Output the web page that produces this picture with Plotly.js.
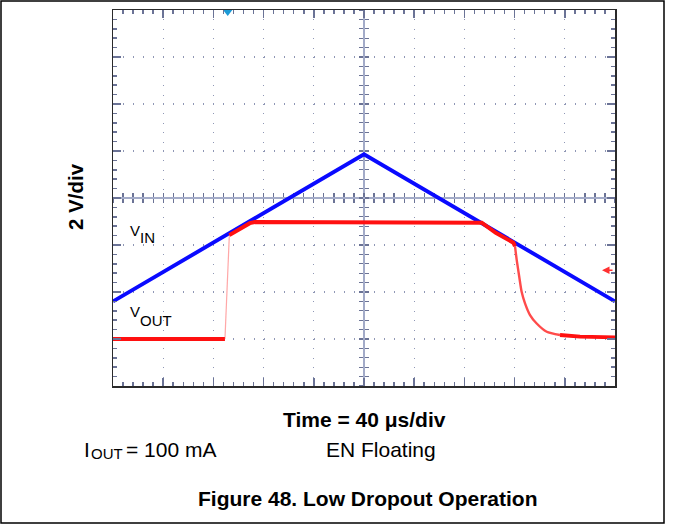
<!DOCTYPE html>
<html><head><meta charset="utf-8">
<script src="https://cdn.plot.ly/plotly-3.0.1.min.js"></script>
<style>html,body{margin:0;padding:0;background:#fff;}#chart{width:673px;height:529px;}</style>
</head><body><div id="chart"></div>
<script>
// ---- data (time in µs, voltage in V; 40 µs/div, 2 V/div) ----
const vinTime = [0, 200, 400];
const vinVolts = [3.6, 9.86, 3.6];
const voutLowTime = [0, 89.2];
const voutLowVolts = [2.0, 2.0];
const voutEdgeTime = [89.2, 92.7];
const voutEdgeVolts = [2.0, 6.42];
const voutRegTime = [92.7, 100, 105, 109, 113, 200, 293.8, 305, 319, 320.3];
const voutRegVolts = [6.42, 6.63, 6.8, 6.93, 6.98, 6.98, 6.95, 6.52, 6.1, 5.95];
const voutFallTime = [320.3, 321.7, 323.7, 325.6, 328.3, 332.3, 337.6, 345.6, 356.2];
const voutFallVolts = [5.95, 5.36, 4.65, 4.01, 3.52, 3.02, 2.66, 2.31, 2.17];
const voutTailTime = [356.2, 372.1, 400];
const voutTailVolts = [2.17, 2.10, 2.07];
const triggerTime = [91.4];
const triggerLevel = [15.92];
const refMarkerVolts = 4.93;

// ---- layout helpers (pixel -> paper) ----
const L = 113, R = 58, T = 10, B = 143, W = 673, H = 529;
const PW = W - L - R, PH = H - T - B;
const px = x => (x - L) / PW;
const py = y => (H - B - y) / PH;

const FONT = 'Liberation Sans, Arial, Helvetica, sans-serif';
const tickC = '#6b7396';
const gridC = '#8f97b5';
const crossC = '#a3abc8';

const traces = [
  // empty helper traces so the centre cross-hair axes get drawn
  {x: [], y: [], xaxis: 'x2', yaxis: 'y', mode: 'lines', hoverinfo: 'skip'},
  {x: [], y: [], xaxis: 'x3', yaxis: 'y', mode: 'lines', hoverinfo: 'skip'},
  {x: [], y: [], xaxis: 'x', yaxis: 'y2', mode: 'lines', hoverinfo: 'skip'},
  {x: [], y: [], xaxis: 'x', yaxis: 'y3', mode: 'lines', hoverinfo: 'skip'},
  {x: vinTime, y: vinVolts, mode: 'lines', line: {color: '#0a0aff', width: 3.9}, hoverinfo: 'skip'},
  {x: voutLowTime, y: voutLowVolts, mode: 'lines', line: {color: '#ff1010', width: 3.8}, hoverinfo: 'skip'},
  {x: voutEdgeTime, y: voutEdgeVolts, mode: 'lines', line: {color: 'rgba(255,60,60,0.45)', width: 1.2}, hoverinfo: 'skip'},
  {x: voutRegTime, y: voutRegVolts, mode: 'lines', line: {color: '#ff1010', width: 4}, hoverinfo: 'skip'},
  {x: voutFallTime, y: voutFallVolts, mode: 'lines', line: {color: 'rgba(255,30,30,0.8)', width: 2.4, shape: 'spline', smoothing: 0.6}, hoverinfo: 'skip'},
  {x: voutTailTime, y: voutTailVolts, mode: 'lines', line: {color: '#ff1010', width: 3.8}, hoverinfo: 'skip'},
  {x: triggerTime, y: triggerLevel, mode: 'markers', marker: {symbol: 'triangle-down', size: 8, color: '#1c9ad6'}, cliponaxis: false, hoverinfo: 'skip'}
];

function crossAxis(range, dtick, mdtick, side) {
  return {
    anchor: 'free', position: 0.5, range: range, dtick: dtick, tick0: 0,
    showticklabels: false, ticks: side, ticklen: 4, tickwidth: 1.3, tickcolor: tickC,
    minor: {dtick: mdtick, tick0: 0, ticks: side, ticklen: 4, tickwidth: 1.3, tickcolor: tickC, showgrid: false},
    showgrid: false, zeroline: false, showline: true, linecolor: crossC, linewidth: 2.2,
    layer: 'below traces', fixedrange: true
  };
}

const layout = {
  width: W, height: H,
  margin: {l: L, r: R, t: T, b: B, pad: 0},
  paper_bgcolor: '#ffffff', plot_bgcolor: '#ffffff',
  showlegend: false,
  font: {family: FONT, color: '#000'},
  xaxis: {
    range: [0, 400], dtick: 40, tick0: 0, showticklabels: false,
    ticks: 'inside', ticklen: 8, tickwidth: 1.5, tickcolor: tickC,
    minor: {dtick: 8, tick0: 0, ticks: 'inside', ticklen: 4, tickwidth: 1.5, tickcolor: tickC, showgrid: false},
    showgrid: true, gridcolor: gridC, gridwidth: 1.2, griddash: '1px,8.4px',
    showline: true, linecolor: '#2a2a2a', linewidth: 1.5, mirror: 'ticks',
    zeroline: false, fixedrange: true
  },
  yaxis: {
    range: [0, 16], dtick: 2, tick0: 0, showticklabels: false,
    ticks: 'inside', ticklen: 8, tickwidth: 1.5, tickcolor: tickC,
    minor: {dtick: 0.4, tick0: 0, ticks: 'inside', ticklen: 4, tickwidth: 1.5, tickcolor: tickC, showgrid: false},
    showgrid: true, gridcolor: gridC, gridwidth: 1.2, griddash: '1px,9.04px',
    showline: true, linecolor: '#2a2a2a', linewidth: 1.5, mirror: 'ticks',
    zeroline: false, fixedrange: true
  },
  xaxis2: Object.assign(crossAxis([0, 400], 40, 8, 'inside'), {overlaying: 'x'}),
  xaxis3: Object.assign(crossAxis([0, 400], 40, 8, 'outside'), {overlaying: 'x'}),
  yaxis2: Object.assign(crossAxis([0, 16], 2, 0.4, 'inside'), {overlaying: 'y'}),
  yaxis3: Object.assign(crossAxis([0, 16], 2, 0.4, 'outside'), {overlaying: 'y'}),
  shapes: [
    {type: 'rect', xref: 'paper', yref: 'paper', x0: px(1), x1: px(664), y0: py(523), y1: py(1),
     line: {color: '#000', width: 1.5}, fillcolor: 'rgba(0,0,0,0)'}
  ],
  annotations: [
    {xref: 'paper', yref: 'paper', x: px(75), y: py(197), text: '<b>2 V/div</b>', textangle: -90,
     showarrow: false, xanchor: 'center', yanchor: 'middle', font: {size: 20.5, family: FONT}, borderpad: 0},
    {xref: 'paper', yref: 'paper', x: px(129), y: py(230), text: 'V', showarrow: false,
     xanchor: 'left', yanchor: 'middle', font: {size: 15, family: FONT}, borderpad: 0},
    {xref: 'paper', yref: 'paper', x: px(138.5), y: py(237), text: 'IN', showarrow: false,
     xanchor: 'left', yanchor: 'middle', font: {size: 15, family: FONT}, borderpad: 0},
    {xref: 'paper', yref: 'paper', x: px(129), y: py(311.7), text: 'V', showarrow: false,
     xanchor: 'left', yanchor: 'middle', font: {size: 15, family: FONT}, borderpad: 0},
    {xref: 'paper', yref: 'paper', x: px(138.5), y: py(320), text: 'OUT', showarrow: false,
     xanchor: 'left', yanchor: 'middle', font: {size: 15, family: FONT}, borderpad: 0},
    {xref: 'paper', yref: 'paper', x: px(364), y: py(419), text: '<b>Time = 40 \u03bcs/div</b>', showarrow: false,
     xanchor: 'center', yanchor: 'middle', font: {size: 21, family: FONT}, borderpad: 0},
    {xref: 'paper', yref: 'paper', x: px(83), y: py(449), text: 'I', showarrow: false,
     xanchor: 'left', yanchor: 'middle', font: {size: 21, family: FONT}, borderpad: 0},
    {xref: 'paper', yref: 'paper', x: px(89.6), y: py(453.6), text: 'OUT', showarrow: false,
     xanchor: 'left', yanchor: 'middle', font: {size: 15, family: FONT}, borderpad: 0},
    {xref: 'paper', yref: 'paper', x: px(125), y: py(449), text: '= 100 mA', showarrow: false,
     xanchor: 'left', yanchor: 'middle', font: {size: 21, family: FONT}, borderpad: 0},
    {xref: 'paper', yref: 'paper', x: px(324.5), y: py(449.5), text: 'EN Floating', showarrow: false,
     xanchor: 'left', yanchor: 'middle', font: {size: 21, family: FONT}, borderpad: 0},
    {xref: 'paper', yref: 'paper', x: px(367.5), y: py(498.5), text: '<b>Figure 48. Low Dropout Operation</b>', showarrow: false,
     xanchor: 'center', yanchor: 'middle', font: {size: 21, family: FONT}, borderpad: 0},
    {xref: 'paper', yref: 'y', x: px(602), y: refMarkerVolts, text: '', showarrow: true,
     ax: 12, ay: 0, arrowhead: 2, arrowsize: 1, arrowwidth: 1.5, arrowcolor: '#ff3030', standoff: 0, startstandoff: 0}
  ]
};

Plotly.newPlot('chart', traces, layout, {staticPlot: true, displayModeBar: false});
</script>
</body></html>
